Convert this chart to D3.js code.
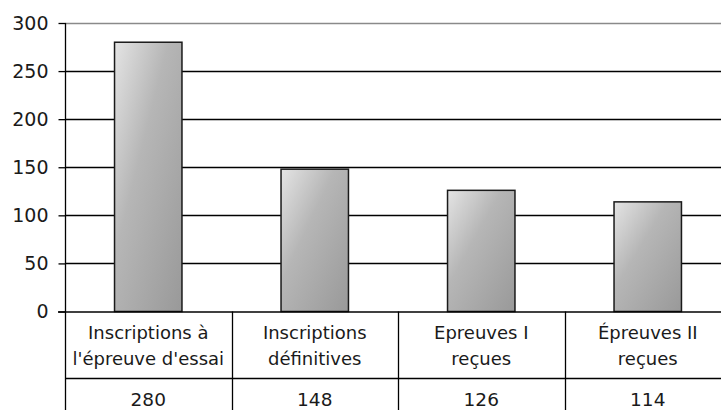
<!DOCTYPE html>
<html><head><meta charset="utf-8">
<script src="https://cdn.jsdelivr.net/npm/d3@7"></script>
<style>
html,body{margin:0;padding:0;background:#fff;}
svg{display:block;}
text{font-family:"DejaVu Sans",sans-serif;fill:#1a1a1a;}
</style></head><body>
<svg id="c" width="721" height="410"></svg>
<script>
const categories = [["Inscriptions à","l'épreuve d'essai"],["Inscriptions","définitives"],["Epreuves I","reçues"],["Épreuves II","reçues"]];
const values = [280, 148, 126, 114];
const yTicks = [0, 50, 100, 150, 200, 250, 300];

const svg = d3.select("#c");
const mLeft = 65, mRight = 731, mTop = 23, mBottom = 311.5;
const x = d3.scaleBand().domain(d3.range(categories.length)).range([mLeft, mRight]).paddingInner(0).paddingOuter(0);
const y = d3.scaleLinear().domain([0, 300]).range([mBottom, mTop]);

const defs = svg.append("defs");
const g = defs.append("linearGradient").attr("id","bg").attr("x1","0").attr("y1","0").attr("x2","1").attr("y2","1");
g.append("stop").attr("offset","0").attr("stop-color","#e4e4e4");
g.append("stop").attr("offset","0.4").attr("stop-color","#b6b6b6");
g.append("stop").attr("offset","1").attr("stop-color","#999999");

// gridlines
svg.append("g").selectAll("line").data(yTicks.filter(d=>d>0)).join("line")
  .attr("x1", mLeft).attr("x2", 721)
  .attr("y1", d=>Math.round(y(d))+0.5).attr("y2", d=>Math.round(y(d))+0.5)
  .attr("stroke", d=> d===300 ? "#8a8a8a" : "#000").attr("stroke-width", 1.3);

// y axis
const yAxis = d3.axisLeft(y).tickValues(yTicks).tickSize(7).tickPadding(10).tickFormat(d3.format("d"));
const ya = svg.append("g").attr("transform", `translate(${mLeft+0.5},0)`).call(yAxis);
ya.select(".domain").remove();
ya.selectAll(".tick line").attr("stroke","#000").attr("stroke-width",1.3);
ya.selectAll(".tick text").attr("font-size",19).attr("fill","#1a1a1a").attr("font-family","DejaVu Sans, sans-serif");
svg.append("line").attr("x1",mLeft+0.5).attr("x2",mLeft+0.5).attr("y1",mTop).attr("y2",410).attr("stroke","#000").attr("stroke-width",1.3);

// bars
const bw = x.bandwidth()*0.405;
svg.append("g").selectAll("rect").data(values).join("rect")
  .attr("x",(d,i)=>x(i)+x.bandwidth()/2-bw/2)
  .attr("width",bw)
  .attr("y",d=>y(d))
  .attr("height",d=>mBottom-y(d))
  .attr("fill","url(#bg)")
  .attr("stroke","#1a1a1a").attr("stroke-width",1.5);

// table
const row1 = 378.5;
svg.append("line").attr("x1",58).attr("x2",721).attr("y1",mBottom+0.5).attr("y2",mBottom+0.5).attr("stroke","#000").attr("stroke-width",1.3);
svg.append("line").attr("x1",mLeft).attr("x2",721).attr("y1",row1).attr("y2",row1).attr("stroke","#000").attr("stroke-width",1.3);
const colEdge = i => i < categories.length ? x(i) : mRight;
svg.append("g").selectAll("line").data(d3.range(1,categories.length+1)).join("line")
  .attr("x1",i=>Math.round(colEdge(i))+0.5).attr("x2",i=>Math.round(colEdge(i))+0.5)
  .attr("y1",mBottom).attr("y2",410).attr("stroke","#000").attr("stroke-width",1.3);

const lab = svg.append("g").selectAll("text").data(categories).join("text")
  .attr("text-anchor","middle").attr("font-size",18);
lab.each(function(d,i){
  const t = d3.select(this);
  d.forEach((s,k)=>t.append("tspan").attr("x",x(i)+x.bandwidth()/2).attr("y",k===0?339:365).text(s));
});
svg.append("g").selectAll("text").data(values).join("text")
  .attr("text-anchor","middle").attr("font-size",18.5)
  .attr("x",(d,i)=>x(i)+x.bandwidth()/2).attr("y",406).text(d=>d);
</script></body></html>
